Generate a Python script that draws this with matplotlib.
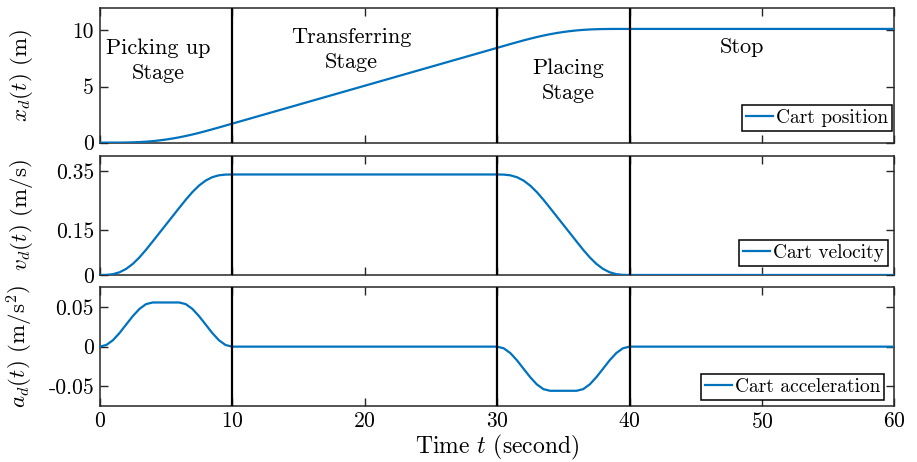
import matplotlib
matplotlib.use("Agg")
import matplotlib.pyplot as plt

plt.rcParams['font.family'] = ['cmr10', 'DejaVu Serif']
plt.rcParams['mathtext.fontset'] = 'cm'
plt.rcParams['axes.unicode_minus'] = False
plt.rcParams['axes.formatter.use_mathtext'] = True

# time samples (s)
t = [0, 0.5, 1, 1.5, 2, 2.5, 3, 3.5, 4, 4.5, 5, 5.5, 6, 6.5, 7, 7.5, 8, 8.5, 9, 9.5, 10,
     30, 30.5, 31, 31.5, 32, 32.5, 33, 33.5, 34, 34.5, 35, 35.5, 36, 36.5, 37, 37.5, 38, 38.5, 39, 39.5, 40,
     60]

# cart position (m)
pos = [0, 0.0000, 0.0007, 0.0035, 0.0107, 0.0249, 0.0488, 0.0846, 0.1339, 0.1973, 0.2747,
       0.3662, 0.4717, 0.5913, 0.7244, 0.8694, 1.0241, 1.1858, 1.3519, 1.5202, 1.6890,
       8.445, 8.6138, 8.7821, 8.9482, 9.1099, 9.2646, 9.4096, 9.5427, 9.6623, 9.7678, 9.8593,
       9.9367, 10.0001, 10.0494, 10.0852, 10.1091, 10.1233, 10.1305, 10.1333, 10.1340, 10.134,
       10.134]

# cart velocity (m/s)
vel = [0, 0.0004, 0.0028, 0.0091, 0.0205, 0.0373, 0.0591, 0.0848, 0.1126, 0.1408, 0.1689,
       0.1971, 0.2252, 0.2530, 0.2787, 0.3005, 0.3173, 0.3287, 0.3350, 0.3374, 0.3378,
       0.3378, 0.3374, 0.3350, 0.3287, 0.3173, 0.3005, 0.2787, 0.2530, 0.2252, 0.1971, 0.1689,
       0.1408, 0.1126, 0.0848, 0.0591, 0.0373, 0.0205, 0.0091, 0.0028, 0.0004, 0,
       0]

# cart acceleration (m/s^2)
acc = [0, 0.0021, 0.0082, 0.0174, 0.0282, 0.0389, 0.0481, 0.0542, 0.0563, 0.0563, 0.0563,
       0.0563, 0.0563, 0.0542, 0.0481, 0.0389, 0.0282, 0.0174, 0.0082, 0.0021, 0,
       0, -0.0021, -0.0082, -0.0174, -0.0282, -0.0389, -0.0481, -0.0542, -0.0563, -0.0563, -0.0563,
       -0.0563, -0.0563, -0.0542, -0.0481, -0.0389, -0.0282, -0.0174, -0.0082, -0.0021, 0,
       0]

stage_bounds = [10, 30, 40]
stage_labels = ["Picking up\nStage", "Transferring\nStage", "Placing\nStage", "Stop"]
stage_label_x = [4.4, 19.0, 35.4, 48.5]
stage_label_y = [7.3, 8.3, 5.55, 8.5]

xticks = [0, 10, 20, 30, 40, 50, 60]
pos_ticks = [0, 5, 10]
pos_ticklabels = ["0", "5", "10"]
vel_ticks = [0, 0.15, 0.35]
vel_ticklabels = ["0", "0.15", "0.35"]
acc_ticks = [-0.05, 0, 0.05]
acc_ticklabels = ["-0.05", "0", "0.05"]

blue = "#0072BD"
spine_col = "#262626"
fig = plt.figure(figsize=(9.17, 4.62), dpi=100)

L, W = 0.1087, 0.8667
ax1 = fig.add_axes([L, 0.6913, W, 0.2914])
ax2 = fig.add_axes([L, 0.4048, W, 0.2576])
ax3 = fig.add_axes([L, 0.1212, W, 0.2570])

specs = [
    (ax1, pos, "Cart position", r"$x_d(t)$ (m)", (0, 12), pos_ticks, pos_ticklabels, (0.997, 0.087)),
    (ax2, vel, "Cart velocity", r"$v_d(t)$ (m/s)", (0, 0.4), vel_ticks, vel_ticklabels, (0.992, 0.078)),
    (ax3, acc, "Cart acceleration", r"$a_d(t)$ (m/s$^2$)", (-0.0757, 0.0757), acc_ticks, acc_ticklabels, (0.987, 0.05)),
]

for ax, y, lab, ylab, ylim, yt, ytl, anchor in specs:
    line, = ax.plot(t, y, color=blue, lw=1.6, label=lab, zorder=3)
    for b in stage_bounds:
        ax.axvline(b, color="black", lw=1.6, zorder=4)
    ax.set_xlim(0, 60)
    ax.set_ylim(*ylim)
    ax.set_xticks(xticks)
    ax.set_yticks(yt)
    ax.set_yticklabels(ytl)
    ax.tick_params(direction="in", top=True, right=True, length=5.5, width=1.0,
                   color=spine_col, labelsize=15.5, pad=4)
    for s in ax.spines.values():
        s.set_linewidth(1.1)
        s.set_color(spine_col)
    ax.set_ylabel(ylab, fontsize=16.5)
    ax.yaxis.set_label_coords(-0.081, 0.5)
    leg = ax.legend(loc="lower right", bbox_to_anchor=anchor, borderaxespad=0,
                    fontsize=14, frameon=True, fancybox=False, framealpha=1,
                    edgecolor="black", handlelength=1.4, handletextpad=0.15,
                    borderpad=0.2, labelspacing=0.2)
    leg.get_frame().set_linewidth(1.1)
    leg.set_zorder(6)

ax1.set_xticklabels([])
ax2.set_xticklabels([])
ax3.set_xlabel(r"Time $t$ (second)", fontsize=17, labelpad=1)

for lx, ly, txt in zip(stage_label_x, stage_label_y, stage_labels):
    ax1.text(lx, ly, txt, ha="center", va="center", fontsize=16, linespacing=1.35)

fig.savefig("out.png", dpi=100)
